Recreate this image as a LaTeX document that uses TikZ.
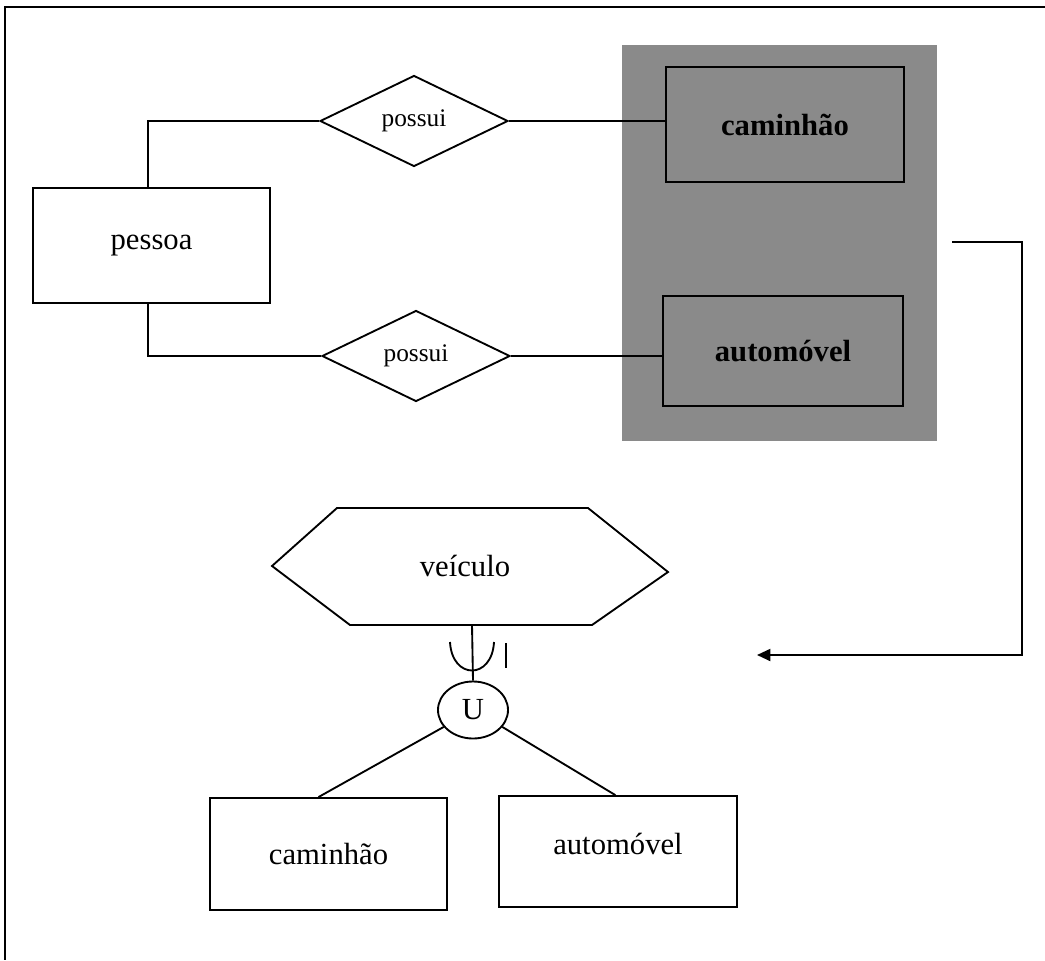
\documentclass[tikz,border=0pt]{standalone}
\usepackage{fontspec}
\setmainfont{Liberation Serif}
\usetikzlibrary{shapes.geometric,arrows.meta,calc}

\begin{document}
\begin{tikzpicture}[x=0.75pt,y=-0.75pt,
  line width=1.4pt,
  entity/.style={draw, rectangle, font=\fontsize{23}{27}\selectfont, inner sep=0pt},
  label23/.style={font=\fontsize{23}{27}\selectfont, inner sep=0pt},
  relation/.style={draw, diamond, inner sep=0pt, minimum width=141pt, minimum height=68.25pt,
    font=\fontsize{19}{23}\selectfont},
  link/.style={line width=1.4pt}
]
\useasboundingbox (0,0) rectangle (1045,960);

% page frame (top and left edges)
\draw[line width=2.2pt] (1045,7) -- (5,7) -- (5,960);

% highlighted group behind the two entities
\fill[black!46] (622,45) rectangle (937,441);

% upper part: pessoa owns caminhao / automovel
\node[entity, minimum width=177.75pt, minimum height=86.25pt] (pessoa) at (151.5,245.5) {pessoa};
\node[relation] (possui1) at (414,121) {possui};
\node[relation] (possui2) at (416,356) {possui};
\node[entity, font=\fontsize{23}{27}\selectfont\bfseries, minimum width=178.5pt, minimum height=86.25pt] (cam1) at (785,124.5) {caminhão};
\node[entity, font=\fontsize{23}{27}\selectfont\bfseries, minimum width=180pt, minimum height=82.5pt] (aut1) at (783,351) {automóvel};

\draw[link] ([xshift=-2.6pt]pessoa.north) |- (possui1.west);
\draw[link] (possui1.east) -- (possui1.east -| cam1.west);
\draw[link] ([xshift=-2.6pt]pessoa.south) |- (possui2.west);
\draw[link] (possui2.east) -- (possui2.east -| aut1.west);

% arrow leading to the generalisation below
\coordinate (arrStart) at (952,242);
\coordinate (arrEnd) at (757,655);
\draw[link, -{Triangle[length=10pt, width=9pt]}] (arrStart) -- (1022,242) -- (1022,655) -- (arrEnd);

% lower part: veiculo as union of caminhao and automovel
\coordinate (hexL)  at (272,566);
\coordinate (hexTL) at (337,508);
\coordinate (hexTR) at (588,508);
\coordinate (hexR)  at (668,572);
\coordinate (hexBR) at (592,625);
\coordinate (hexBL) at (350,625);
\draw[link, line join=miter] (hexL) -- (hexTL) -- (hexTR) -- (hexR) -- (hexBR) -- (hexBL) -- cycle;
\node[label23] (vei) at (465,566) {veículo};
\coordinate (hexB) at (472,625);

\node[draw, ellipse, inner sep=0pt, minimum width=52.5pt, minimum height=42.75pt,
      font=\fontsize{23}{27}\selectfont] (uni) at (473,710) {U};

\draw[link] (hexB) -- (uni.north);
% subset marker and bar on the union link
\draw[link] (450,642) .. controls (452,680) and (492,680) .. (494,642);
\draw[link] (506,643) -- (506,668);

\node[entity, minimum width=177.75pt, minimum height=84pt] (cam2) at (328.5,854) {caminhão};
\node[entity, minimum width=178.5pt, minimum height=83.25pt] (aut2) at (618,851.5) {};
\node[label23] (aut2text) at ([yshift=6pt]aut2.center) {automóvel};

\draw[link] (uni.-150) -- ([xshift=-7.5pt]cam2.north);
\draw[link] (uni.-30) -- ([xshift=-2pt]aut2.north);
\end{tikzpicture}
\end{document}
